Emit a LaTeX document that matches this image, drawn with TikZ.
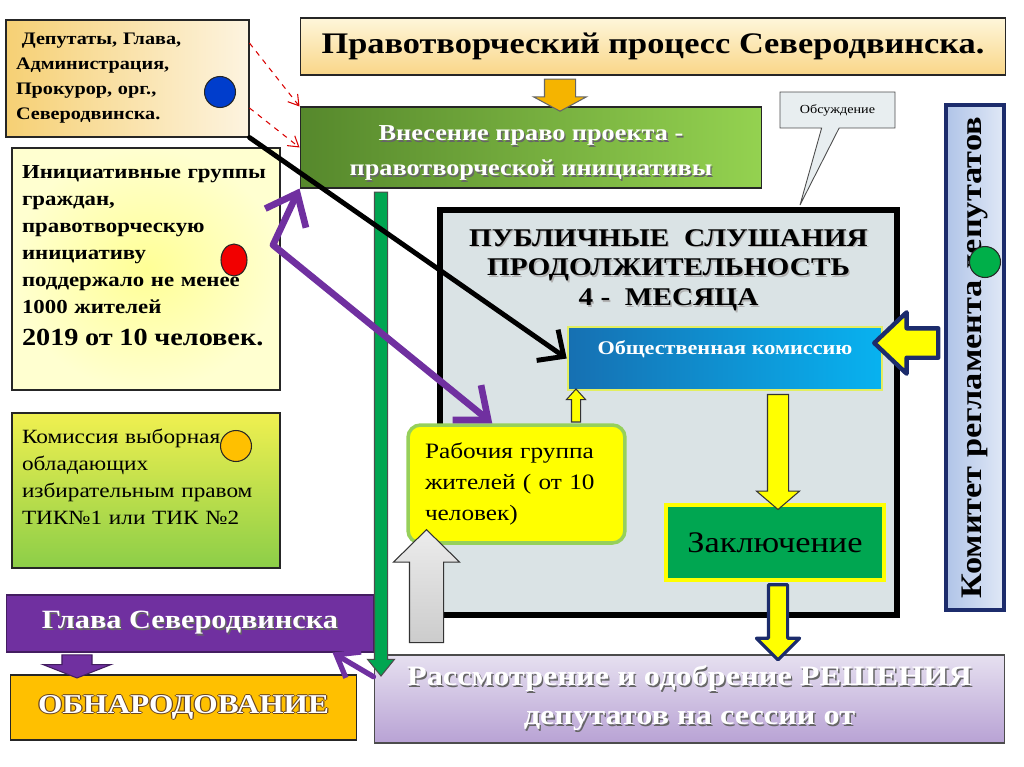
\documentclass[tikz,border=0pt]{standalone}
\usepackage{fontspec}
\setmainfont{Liberation Serif}[FakeStretch=1.15]
\usetikzlibrary{arrows.meta,positioning,calc,shapes.geometric,shapes.arrows,shapes.callouts}
\definecolor{ac}{RGB}{246,208,116}
\definecolor{al}{RGB}{253,244,224}
\definecolor{bc}{RGB}{255,255,150}
\definecolor{bl}{RGB}{255,255,208}
\definecolor{cy}{RGB}{240,240,80}
\definecolor{cm}{RGB}{214,218,208}
\definecolor{cg}{RGB}{140,206,72}
\definecolor{tt}{RGB}{254,246,218}
\definecolor{tb}{RGB}{249,214,136}
\definecolor{vd}{RGB}{86,136,44}
\definecolor{vl}{RGB}{148,210,80}
\definecolor{psf}{RGB}{218,227,229}
\definecolor{okd}{RGB}{22,112,178}
\definecolor{okl}{RGB}{8,178,240}
\definecolor{oky}{RGB}{226,238,96}
\definecolor{gy}{RGB}{255,255,0}
\definecolor{rgl}{RGB}{150,208,90}
\definecolor{zk}{RGB}{0,166,81}
\definecolor{navy}{RGB}{28,44,108}
\definecolor{kt}{RGB}{224,232,246}
\definecolor{kb}{RGB}{176,196,232}
\definecolor{pu}{RGB}{112,48,160}
\definecolor{ob}{RGB}{255,192,0}
\definecolor{rt}{RGB}{230,224,240}
\definecolor{rb}{RGB}{184,162,212}
\definecolor{orr}{RGB}{245,180,0}
\definecolor{obsf}{RGB}{232,238,240}
\newcommand\shd[2][black!60]{\leavevmode\rlap{\kern.8pt\raisebox{-.9pt}{\textcolor{#1}{#2}}}#2}
\newcommand\outl[1]{\leavevmode\rlap{\kern.7pt\textcolor{brown!55!black}{#1}}\rlap{\kern-.7pt\textcolor{brown!55!black}{#1}}\rlap{\raisebox{.7pt}{\textcolor{brown!55!black}{#1}}}\rlap{\raisebox{-.7pt}{\textcolor{brown!55!black}{#1}}}#1}
\tikzset{box/.style={draw=black!85,line width=.6pt,inner ysep=0pt,inner xsep=.2cm},
 dot/.style={circle,draw=black!85,line width=.6pt,minimum size=.62cm,inner sep=0pt},
 barr/.style={single arrow,draw=black!80,line width=.6pt,inner xsep=0pt,minimum width=0pt},
 blk/.style={line width=2.8pt,line cap=round,line join=round,-{Straight Barb[length=.4cm,width=.75cm]}},
 pur/.style={pu,line width=3.8pt,line cap=round,line join=round},
 reddash/.style={draw=red!85!black,line width=.6pt,dashed,-{Straight Barb[length=.2cm,width=.25cm]}}}

\begin{document}
\begin{tikzpicture}[x=.02cm,y=-.02cm]
\useasboundingbox (0,0) rectangle (1024,767);
% left column
\node[box,left color=ac,right color=al,minimum width=4.86cm,minimum height=2.34cm,text width=4.46cm,align=left,font=\fontsize{10}{14.2}\selectfont\bfseries] (dep) at (127.5,78.5) {\ Депутаты, Глава,\\ Администрация,\\ Прокурор, орг.,\\ Северодвинска.};
\node[box,inner color=bc,outer color=bl,minimum width=5.36cm,minimum height=4.84cm,text width=4.96cm,align=left,font=\fontsize{11.3}{15.4}\selectfont\bfseries] (ini) at (146,269) {Инициативные группы\\ граждан,\\ правотворческую\\ инициативу\\ поддержало не менее\\ 1000 жителей\\[3pt] {\fontsize{14}{18}\selectfont 2019 от 10 человек.}\\ \mbox{}};
\node[box,top color=cy,middle color=cm,bottom color=cg,minimum width=5.36cm,minimum height=3.1cm,text width=4.96cm,align=left,font=\fontsize{11.5}{15.3}\selectfont] (tik) at (146,490.5) {Комиссия выборная\\ обладающих\\ избирательным правом\\ ТИК№1 или ТИК №2\\ \mbox{}};
% top
\node[box,top color=tt,bottom color=tb,minimum width=14.12cm,minimum height=1.14cm,font=\fontsize{17}{20}\selectfont\bfseries] (title) at (653,46.5) {Правотворческий процесс Северодвинска.};
\node[box,left color=vd,right color=vl,minimum width=9.24cm,minimum height=1.62cm,align=center,text=white,font=\fontsize{13}{19.8}\selectfont\bfseries] (vn) at (531,147.5) {\rule{0pt}{16pt}\shd{Внесение право проекта -}\\ \shd{правотворческой инициативы}};
\coordinate (obsp) at (800,205);
\node[rectangle callout,draw=black!70,fill=obsf,line width=.5pt,minimum width=2.3cm,minimum height=.72cm,callout absolute pointer=(obsp),callout pointer width=.35cm,font=\fontsize{7}{8}\selectfont] (obs) at (837.5,110) {Обсуждение};
% public hearings
\node[draw=black,line width=3.4pt,fill=psf,minimum width=9.14cm,minimum height=8.1cm] (ps) at (668.5,412.5) {};
\node[below=.32cm of ps.north,align=center,font=\fontsize{14.5}{17}\selectfont\bfseries] (pshead) {\shd[gray!60]{ПУБЛИЧНЫЕ\ \ СЛУШАНИЯ}\\ \shd[gray!60]{ПРОДОЛЖИТЕЛЬНОСТЬ}\\ \shd[gray!60]{4 -\ \ МЕСЯЦА}};
\node[draw=oky,line width=1.5pt,left color=okd,right color=okl,minimum width=6.28cm,minimum height=1.26cm,align=center,text=white,font=\fontsize{11}{13}\selectfont\bfseries] (ok) at (725,358.5) {Общественная\ комиссию\\ \mbox{}};
\node[draw=rgl,line width=2pt,fill=gy,rounded corners=.25cm,minimum width=4.34cm,minimum height=2.36cm,text width=3.66cm,align=left,inner xsep=.34cm,font=\fontsize{12.5}{17.6}\selectfont] (rg) at (516.5,484) {Рабочия группа\\ жителей ( от 10\\ человек)};
\node[draw=gy,line width=2pt,fill=zk,minimum width=4.36cm,minimum height=1.5cm,font=\fontsize{17}{20}\selectfont] (zak) at (775,542.5) {Заключение};
\node[draw=navy,line width=2.5pt,rotate=90,left color=kb,right color=kt,minimum width=10.1cm,minimum height=1.16cm,font=\fontsize{17}{20}\selectfont\bfseries] (reg) at (975,357.5) {Комитет регламента депутатов};
% bottom
\node[box,draw=pu!60!black,fill=pu,minimum width=7.36cm,minimum height=1.14cm,text=white,font=\fontsize{15}{18}\selectfont\bfseries] (glava) at (190,623.5) {\shd{Глава Северодвинска}};
\node[box,fill=ob,minimum width=6.94cm,minimum height=1.3cm,text=white,font=\fontsize{15.5}{18}\selectfont\bfseries] (obn) at (183.5,707.5) {\outl{ОБНАРОДОВАНИЕ}};
\node[box,draw=black!70,top color=rt,bottom color=rb,minimum width=12.62cm,minimum height=1.76cm,align=center,text=white,font=\fontsize{16}{22}\selectfont\bfseries] (ras) at (689.5,699) {\shd{Рассмотрение и одобрение РЕШЕНИЯ}\\ \shd{депутатов на сессии от}};
% dots
\node[dot,fill=blue!70!cyan!80!black] (d1) at (220,92) {};
\node[ellipse,draw=black!85,line width=.6pt,fill=red!95!black,minimum width=.52cm,minimum height=.64cm,inner sep=0pt] (d2) at (234,260) {};
\node[dot,fill=ob] (d3) at (236,446) {};
\node[dot,fill=zk!90!green] (d4) at (985,262) {};
% block arrows
\node[barr,fill=orr,draw=black!60,rotate=-90,inner ysep=.3cm,minimum height=.64cm,single arrow head extend=.22cm,single arrow tip angle=123] (ar1) at (560,91) {};
\node[barr,fill=gy,rotate=90,inner ysep=.08cm,minimum height=.66cm,single arrow head extend=.1cm,single arrow tip angle=84] (ar2) at (576,408) {};
\node[barr,fill=gy,rotate=-90,inner ysep=.2cm,minimum height=2.3cm,single arrow head extend=.22cm,single arrow tip angle=99] (ar3) at (778,447.5) {};
\node[barr,fill=gy,draw=navy,line width=1.8pt,line join=round,rotate=-90,inner ysep=.16cm,minimum height=1.5cm,single arrow head extend=.24cm,single arrow tip angle=90] (ar4) at (778,617.5) {};
\node[barr,fill=gy,draw=navy,line width=2.5pt,line join=round,rotate=180,inner ysep=.25cm,minimum height=1.28cm,single arrow head extend=.32cm,single arrow tip angle=87] (ar5) at (914,343) {};
\node[barr,top color=gray!15,middle color=white,bottom color=gray!40,rotate=90,inner ysep=.33cm,minimum height=2.26cm,single arrow head extend=.32cm,single arrow tip angle=91] (ar6) at (426.5,594.5) {};
\node[barr,fill=zk,draw=black!70,rotate=-90,inner ysep=.12cm,minimum height=9.68cm,single arrow head extend=.14cm,single arrow tip angle=78] (ar7) at (381,430) {};
\node[barr,fill=pu,draw=pu!60!black,rotate=-90,inner ysep=.29cm,minimum height=.46cm,single arrow head extend=.38cm,single arrow tip angle=137] (ar8) at (77,663.5) {};
% line arrows
\draw[reddash] ($(dep.north east)!.2!(dep.south east)$) -- (vn.north west);
\draw[reddash] ($(dep.north east)!.75!(dep.south east)$) -- (vn.west);
\draw[blk] (dep.south east) -- (ok.west);
\coordinate (bend) at (273,245);
\draw[pur,{Straight Barb[length=.55cm,width=.9cm]}-{Straight Barb[length=.55cm,width=.9cm]}] (vn.south west) -- (bend) -- ($(rg.north west)!.39!(rg.north east)$);
\draw[pur,line width=3pt,-{Straight Barb[length=.4cm,width=.6cm]}] ($(ras.north west)!.25!(ras.south west)$) -- ($(glava.south east)+(-42,0)$);
\end{tikzpicture}
\end{document}
